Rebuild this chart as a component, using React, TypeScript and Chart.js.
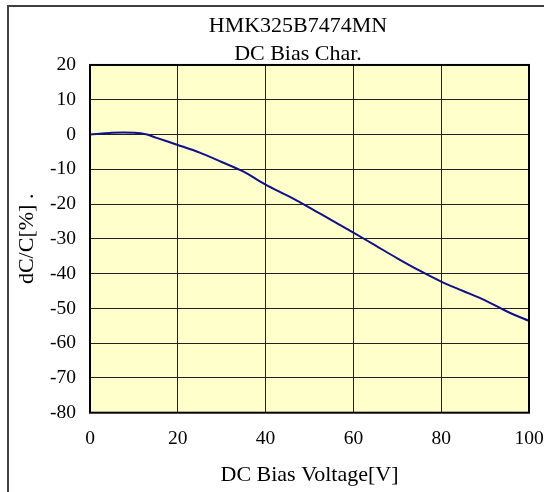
import { useEffect, useRef } from "react";
import Chart from "chart.js/auto";

// ---- data ----
const voltages = [0, 5, 10, 13, 15, 20, 25, 30, 35, 40, 45, 50, 55, 60, 65, 70, 75, 80, 85, 90, 95, 100];
const capChange = [0, 0.5, 0.5, 0, -0.9, -3.0, -5.2, -7.9, -10.7, -14.4, -17.6, -21.0, -24.6, -28.2, -31.9, -35.6, -39.1, -42.3, -45.0, -47.7, -50.9, -53.6];
const xTickValues = [0, 20, 40, 60, 80, 100];
const yTickValues = [-80, -70, -60, -50, -40, -30, -20, -10, 0, 10, 20];
const titleLines = ["HMK325B7474MN", "DC Bias Char."];
const xAxisTitle = "DC Bias Voltage[V]";
const yAxisTitle = "dC/C[%] .";

const SERIF = "'Liberation Serif', 'Times New Roman', serif";

const framePlugin = {
  id: "framePlugin",
  beforeDraw(chart: any) {
    const { ctx, chartArea: a, width, height } = chart;
    ctx.save();
    ctx.fillStyle = "#ffffff";
    ctx.fillRect(0, 0, width, height);
    ctx.fillStyle = "#ffffcc";
    ctx.fillRect(a.left, a.top, a.right - a.left, a.bottom - a.top);
    ctx.strokeStyle = "#404040";
    ctx.lineWidth = 2;
    ctx.strokeRect(8, 6, width + 40, height + 40);
    ctx.restore();
  },
  afterDraw(chart: any) {
    const { ctx, chartArea: a } = chart;
    ctx.save();
    ctx.strokeStyle = "#000000";
    ctx.lineWidth = 2;
    ctx.strokeRect(a.left, a.top, a.right - a.left, a.bottom - a.top);
    ctx.restore();
  },
};

const titleShiftPlugin = {
  id: "titleShiftPlugin",
  afterLayout(chart: any) {
    const t = chart.titleBlock;
    if (t) {
      t.left = 8;
      t.right = 588;
    }
  },
};

export default function App() {
  const ref = useRef<HTMLCanvasElement | null>(null);

  useEffect(() => {
    if (!ref.current) return;
    const chart = new Chart(ref.current, {
      type: "line",
      data: {
        datasets: [
          {
            data: voltages.map((v, i) => ({ x: v, y: capChange[i] })),
            borderColor: "#10108a",
            borderWidth: 2,
            pointRadius: 0,
            tension: 0.3,
            fill: false,
          },
        ],
      },
      options: {
        animation: false,
        responsive: false,
        layout: { padding: { left: 0, right: 15, top: 0, bottom: 0 } },
        plugins: {
          legend: { display: false },
          tooltip: { enabled: false },
          title: {
            display: true,
            text: titleLines,
            color: "#000",
            font: { family: SERIF, size: 22, weight: "normal", lineHeight: 1.29 },
            padding: { top: 11.8, bottom: -3.6 },
          },
        },
        scales: {
          x: {
            type: "linear",
            min: 0,
            max: 100,
            afterBuildTicks: (s: any) => {
              s.ticks = xTickValues.map((v) => ({ value: v }));
            },
            afterFit: (s: any) => {
              s.height = 79.3;
              s.paddingLeft = 0;
              s.paddingRight = 0;
            },
            ticks: {
              color: "#000",
              font: { family: SERIF, size: 19.5 },
              padding: 14.6,
              maxRotation: 0,
              autoSkip: false,
            },
            grid: { color: "#222", lineWidth: 1, drawTicks: false },
            border: { display: false },
            title: {
              display: true,
              text: xAxisTitle,
              color: "#000",
              font: { family: SERIF, size: 22, lineHeight: 1.2 },
              padding: { top: 0, bottom: 3.3 },
            },
          },
          y: {
            type: "linear",
            min: -80,
            max: 20,
            afterBuildTicks: (s: any) => {
              s.ticks = yTickValues.map((v) => ({ value: v }));
            },
            afterFit: (s: any) => {
              s.width = 90;
            },
            ticks: {
              color: "#000",
              font: { family: SERIF, size: 19.5 },
              padding: 14,
              autoSkip: false,
            },
            grid: { color: "#222", lineWidth: 1, drawTicks: false },
            border: { display: false },
            title: {
              display: true,
              text: yAxisTitle,
              color: "#000",
              font: { family: SERIF, size: 22, lineHeight: 1.2 },
              padding: { top: 14.3, bottom: 0 },
            },
          },
        },
      },
      plugins: [framePlugin, titleShiftPlugin],
    } as any);
    return () => chart.destroy();
  }, []);

  return (
    <div style={{ position: "absolute", left: 0, top: 0, width: 544, height: 492, overflow: "hidden", background: "#fff" }}>
      <canvas ref={ref} width={544} height={492} style={{ display: "block" }} />
    </div>
  );
}
